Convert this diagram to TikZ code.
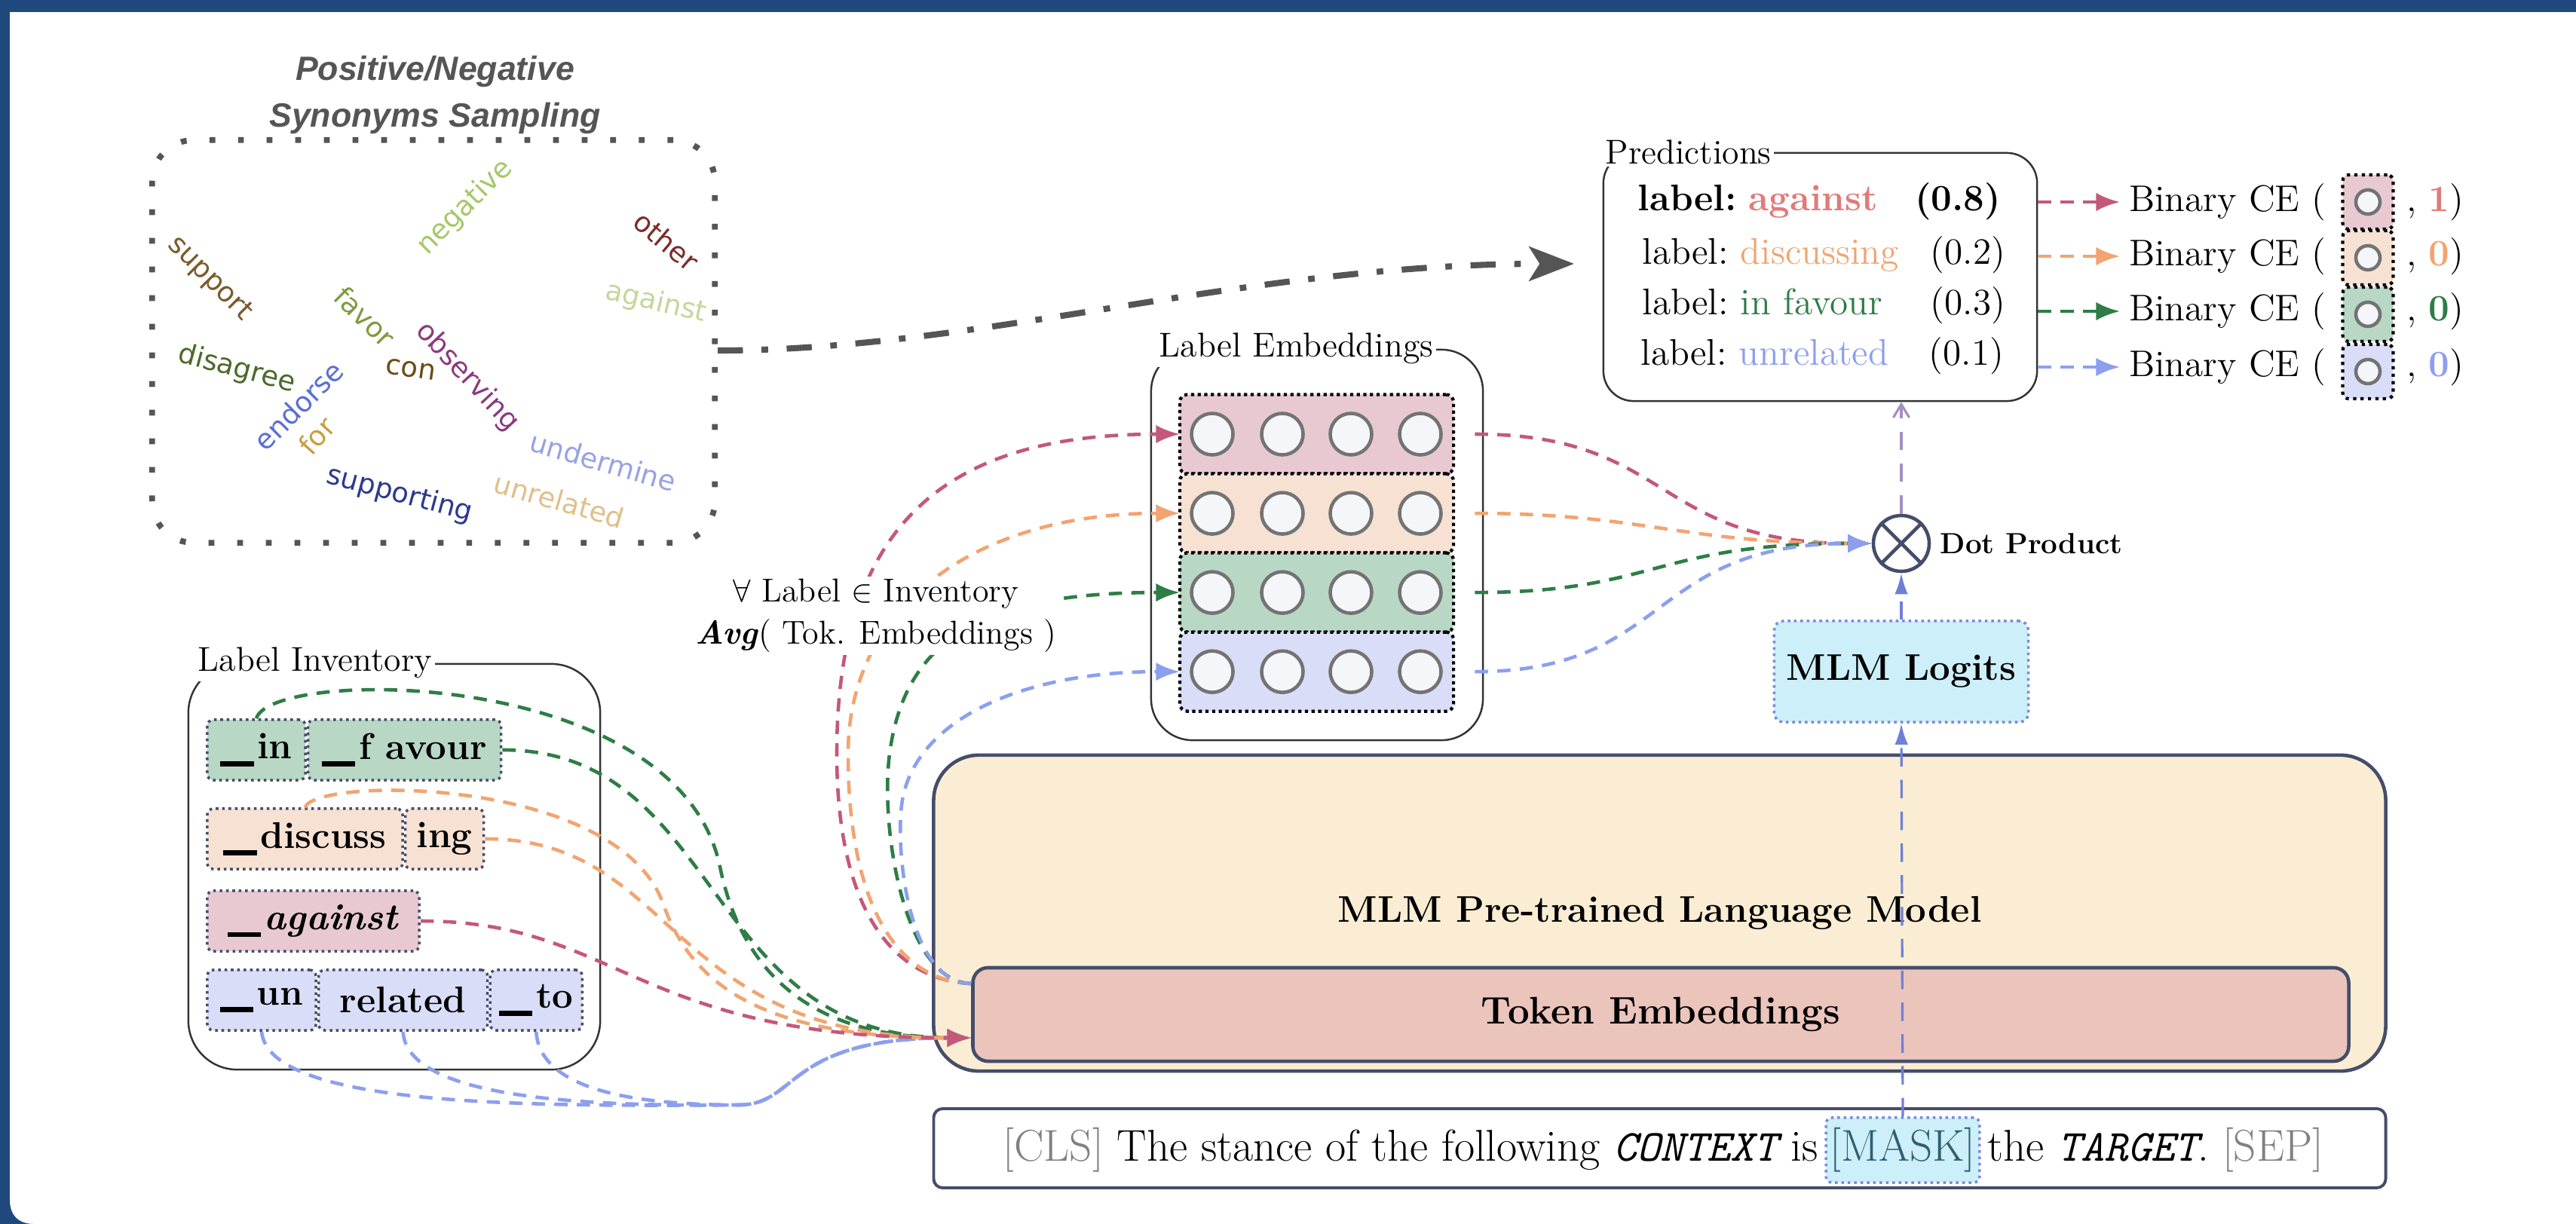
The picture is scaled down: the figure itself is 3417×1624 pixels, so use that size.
\documentclass[tikz,border=0pt]{standalone}
\usepackage{fontspec}
\usepackage{tikz}
\usetikzlibrary{positioning,calc,arrows.meta}

\newfontfamily\cloudfont{DejaVu Sans}
\newfontfamily\headfont{Liberation Sans}

\definecolor{framebl}{HTML}{1F497D}
\definecolor{cloudgray}{HTML}{555555}
\definecolor{slate}{HTML}{454D6A}
\definecolor{agfill}{HTML}{E8C9D2}
\definecolor{dsfill}{HTML}{F7E1D3}
\definecolor{fvfill}{HTML}{B9D7C5}
\definecolor{unfill}{HTML}{D9DDF7}
\definecolor{agline}{HTML}{C4587A}
\definecolor{agtext}{HTML}{E07B79}
\definecolor{dsline}{HTML}{F2A470}
\definecolor{fvline}{HTML}{2E7D46}
\definecolor{unline}{HTML}{8C9FEF}
\definecolor{mlmfill}{HTML}{FAEDD3}
\definecolor{tokfill}{HTML}{EBC4BC}
\definecolor{logitfill}{HTML}{CDEFF9}
\definecolor{logitline}{HTML}{7B8BD9}
\definecolor{maskblue}{HTML}{6F7FD8}
\definecolor{predline}{HTML}{A48FC4}
\definecolor{masktext}{HTML}{2F5F73}
\definecolor{unitfill}{HTML}{F4F6FA}
\definecolor{wsupport}{HTML}{7A5A2C}
\definecolor{wnegative}{HTML}{A6C86A}
\definecolor{wother}{HTML}{7B2C28}
\definecolor{wagainst}{HTML}{C3D79B}
\definecolor{wfavor}{HTML}{7E9B40}
\definecolor{wdisagree}{HTML}{4C6A2B}
\definecolor{wcon}{HTML}{6B4C14}
\definecolor{wobserving}{HTML}{8C3A7E}
\definecolor{wendorse}{HTML}{5A6ED6}
\definecolor{wfor}{HTML}{C99F3E}
\definecolor{wundermine}{HTML}{98A2E6}
\definecolor{wunrelated}{HTML}{E0C08A}
\definecolor{wsupporting}{HTML}{2D3990}

% word-piece marker
\newcommand{\ubar}{\rule[-0.2em]{0.9em}{0.14em}\kern0.1em}

\tikzset{
  panel/.style={draw=black!80, line width=0.7pt},
  paneltitle/.style={fill=white, anchor=west, inner sep=1pt, font=\fontsize{13}{15}\selectfont},
  embrow/.style={draw=black, line width=1.2pt, dash pattern=on 1.2pt off 1.3pt,
    rounded corners=0.1cm, minimum width=3.63cm, minimum height=1.05cm, inner sep=0pt, outer sep=0pt},
  neuron/.style={circle, draw=black!55, fill=unitfill, line width=1.3pt, minimum size=0.55cm, inner sep=0pt},
  tokbox/.style={draw=slate, line width=1pt, dash pattern=on 1pt off 1.4pt, rounded corners=0.08cm,
    minimum height=0.8cm, inner sep=0pt, font=\bfseries\fontsize{14}{16}\selectfont},
  minibox/.style={draw=black, line width=1.2pt, dash pattern=on 1.2pt off 1.6pt, rounded corners=0.08cm,
    minimum width=0.67cm, minimum height=0.72cm, inner sep=0pt},
  flow/.style={line width=1.3pt, dash pattern=on 5pt off 3.5pt, -{Latex[length=9pt,width=7pt]}},
  thinflow/.style={line width=0.9pt, dash pattern=on 7pt off 5pt},
  word/.style={font=\cloudfont\fontsize{10.5}{12}\selectfont, inner sep=0pt},
  block/.style={draw=slate, line width=1.3pt},
  predrow/.style={anchor=west, inner sep=0pt, text width=4.81cm, align=left, font=\fontsize{14}{16}\selectfont\frenchspacing},
  bcetext/.style={anchor=west, font=\fontsize{14}{16}\selectfont},
}

\begin{document}
\begin{tikzpicture}[x=0.01cm,y=-0.01cm]
% canvas and frame
\fill[white] (0,0) rectangle (3417,1624);
\useasboundingbox (0,0) rectangle (3417,1624);
\fill[framebl] (0,0) rectangle (3417,16);
\fill[framebl] (0,0) rectangle (13,1624);
\fill[framebl] (13,1592) .. controls (13,1612) and (24,1624) .. (45,1624) -- (13,1624) -- cycle;

% synonyms sampling
\node[draw=cloudgray, line width=2.2pt, dash pattern=on 2.2pt off 8.6pt, rounded corners=0.55cm,
  minimum width=7.46cm, minimum height=5.34cm] (cloud) at (575,453) {};
\node[font=\headfont\bfseries\itshape\fontsize{12.7}{17.4}\selectfont, text=cloudgray, align=center]
  (cloudtitle) at (577,126) {Positive/Negative\\Synonyms Sampling};
\foreach \w/\c/\x/\y/\r [count=\i] in {
  support/wsupport/278/370/-45, negative/wnegative/617/275/45, other/wother/884/320/-40,
  against/wagainst/870/402/-13, favor/wfavor/484/420/-45, disagree/wdisagree/314/490/-15,
  con/wcon/545/490/-8, observing/wobserving/620/500/-47, endorse/wendorse/396/538/45,
  for/wfor/420/578/48, undermine/wundermine/800/612/-16, unrelated/wunrelated/742/664/-16,
  supporting/wsupporting/530/656/-15}
  \node[word, text=\c, rotate=\r] (w\i) at (\x,\y) {\w};

% predictions
\node[panel, rounded corners=0.4cm, minimum width=5.75cm, minimum height=3.29cm] (pred) at (2414.5,367.5) {};
\node[paneltitle] (predtitle) at (pred.north west) {Predictions};
\node[predrow] (pr1) at (2172,267) {\textbf{label: \textcolor{agtext}{against}\hfill(0.8)}};
\node[predrow] (pr2) at (2178,338) {label: \textcolor{dsline}{discussing}\hfill(0.2)};
\node[predrow] (pr3) at (2178,405) {label: \textcolor{fvline}{in favour}\hfill(0.3)};
\node[predrow] (pr4) at (2176,472) {label: \textcolor{unline}{unrelated}\hfill(0.1)};

\coordinate (predin) at (2088,350);
\draw[cloudgray, line width=2.3pt, dash pattern=on 9.5pt off 7pt on 2.5pt off 7pt,
  -{Stealth[length=17pt,width=13pt,inset=4pt]}]
  ([yshift=-0.12cm]cloud.east) .. controls +(350,0) and +(-440,0) .. (predin);

% binary cross entropy per label
\node[bcetext] (bce1) at (2812,268) {Binary CE (};
\node[minibox, fill=agfill] (mb1) at (3141,268) {};
\node[neuron, minimum size=0.32cm] (mc1) at (mb1) {};
\node[bcetext] (bt1) at (3180,268) {, \textbf{\textcolor{agtext}{1}})};
\node[bcetext] (bce2) at (2812,340) {Binary CE (};
\node[minibox, fill=dsfill] (mb2) at (3141,342) {};
\node[neuron, minimum size=0.32cm] (mc2) at (mb2) {};
\node[bcetext] (bt2) at (3180,340) {, \textbf{\textcolor{dsline}{0}})};
\node[bcetext] (bce3) at (2812,413) {Binary CE (};
\node[minibox, fill=fvfill] (mb3) at (3141,417) {};
\node[neuron, minimum size=0.32cm] (mc3) at (mb3) {};
\node[bcetext] (bt3) at (3180,413) {, \textbf{\textcolor{fvline}{0}})};
\node[bcetext] (bce4) at (2812,487) {Binary CE (};
\node[minibox, fill=unfill] (mb4) at (3141,493) {};
\node[neuron, minimum size=0.32cm] (mc4) at (mb4) {};
\node[bcetext] (bt4) at (3180,487) {, \textbf{\textcolor{unline}{0}})};
\draw[flow, agline] (pred.east |- bce1.west) -- (bce1.west);
\draw[flow, dsline] (pred.east |- bce2.west) -- (bce2.west);
\draw[flow, fvline] (pred.east |- bce3.west) -- (bce3.west);
\draw[flow, unline] (pred.east |- bce4.west) -- (bce4.west);

% label embeddings
\node[panel, rounded corners=0.55cm, minimum width=4.4cm, minimum height=5.18cm] (embgrp) at (1747,723) {};
\node[paneltitle] (embtitle) at ([xshift=0.08cm]embgrp.north west) {Label Embeddings};
\node[embrow, fill=agfill] (emb1) at (1746.5,576) {};
\node[embrow, fill=dsfill, below=0pt of emb1] (emb2) {};
\node[embrow, fill=fvfill, below=0pt of emb2] (emb3) {};
\node[embrow, fill=unfill, below=0pt of emb3] (emb4) {};
\foreach \r in {1,...,4}
  \foreach \cx [count=\k] in {1608,1701,1792,1884}
    \node[neuron] (u\r\k) at (\cx,0 |- emb\r) {};

% dot product and logits
\node[circle, draw=slate, line width=1.3pt, minimum size=0.74cm, inner sep=0pt] (dot) at (2522,721) {};
\draw[slate, line width=1.3pt] (dot.north west) -- (dot.south east) (dot.north east) -- (dot.south west);
\node[anchor=west, font=\bfseries\fontsize{11}{13}\selectfont] (dotlab) at (dot.east) {Dot Product};
\node[fill=logitfill, draw=logitline, line width=1pt, dash pattern=on 1pt off 1.4pt, rounded corners=0.12cm,
  minimum width=3.37cm, minimum height=1.34cm, font=\bfseries\fontsize{14}{16}\selectfont] (logits) at (2522,891) {MLM Logits};

% language model
\node[block, fill=mlmfill, rounded corners=0.6cm, minimum width=19.25cm, minimum height=4.19cm,
  font=\bfseries\fontsize{14}{16}\selectfont] (mlm) at (2201.5,1211.5) {MLM Pre-trained Language Model};
\node[block, fill=tokfill, rounded corners=0.2cm, minimum width=18.24cm, minimum height=1.24cm,
  font=\bfseries\fontsize{14.5}{16}\selectfont] (tok) at (2203,1346) {Token Embeddings};
\coordinate (tokin) at ($(tok.west)+(0,31)$);
\coordinate (tokout) at ($(tok.west)+(0,-41)$);

% prompt
\node[block, line width=1.1pt, fill=white, rounded corners=0.12cm, minimum width=19.25cm, minimum height=1.05cm] (input) at (2201.5,1523.5) {};
\node[fill=logitfill, draw=logitline, line width=1pt, dash pattern=on 1pt off 1.4pt, rounded corners=0.08cm,
  inner sep=1.5pt, minimum height=0.86cm, text=masktext, font=\fontsize{16.8}{18}\selectfont] (mask) at (2524,1526) {[MASK]};
\node[anchor=base east, inner sep=0pt, font=\fontsize{16.8}{18}\selectfont] (ctxl) at ([xshift=-0.08cm]mask.base west)
  {\textcolor{black!50}{[CLS]} The stance of the following {\ttfamily\itshape CONTEXT} is};
\node[anchor=base west, inner sep=0pt, font=\fontsize{16.8}{18}\selectfont] (ctxr) at ([xshift=0.08cm]mask.base east)
  {the {\ttfamily\itshape TARGET}. \textcolor{black!50}{[SEP]}};

% label inventory
\node[panel, rounded corners=0.65cm, minimum width=5.46cm, minimum height=5.38cm] (inv) at (523,1150) {};
\node[paneltitle] (invtitle) at ([xshift=0.1cm]inv.north west) {Label Inventory};
\node[tokbox, fill=fvfill, minimum width=1.3cm] (tin) at (340,995) {\ubar in};
\node[tokbox, fill=fvfill, minimum width=2.56cm, right=0pt of tin] (tfavour) {\ubar f avour};
\node[tokbox, fill=dsfill, minimum width=2.59cm] (tdiscuss) at (404.5,1113) {\ubar discuss};
\node[tokbox, fill=dsfill, minimum width=1.04cm, right=0pt of tdiscuss] (ting) {ing};
\node[tokbox, fill=agfill, minimum width=2.81cm] (tagainst) at (415.5,1222) {\ubar\textit{against}};
\node[tokbox, fill=unfill, minimum width=1.44cm] (tun) at (347,1327) {\ubar un};
\node[tokbox, fill=unfill, minimum width=2.24cm, right=0pt of tun] (trelated) {related};
\node[tokbox, fill=unfill, minimum width=1.22cm, right=0pt of trelated] (tto) {\ubar to};

% tokens into the embedding layer
\draw[flow, unline] (tun.south) .. controls +(10,100) and (700,1468) .. (980,1466)
  .. controls (1060,1466) and (1040,1377) .. (tokin);
\draw[flow, unline] (trelated.south) .. controls +(5,90) and (780,1468) .. (980,1466)
  .. controls (1060,1466) and (1040,1377) .. (tokin);
\draw[flow, unline] (tto.south) .. controls +(5,80) and (850,1466) .. (980,1466)
  .. controls (1060,1466) and (1040,1377) .. (tokin);
\draw[flow, fvline] (tin.north) .. controls (360,885) and (900,885) .. (955,1150)
  .. controls (985,1295) and (1080,1377) .. (tokin);
\draw[flow, fvline] (tfavour.east) .. controls (960,995) and (930,1377) .. (tokin);
\draw[flow, dsline] (tdiscuss.north) .. controls (420,1030) and (820,1030) .. (880,1200)
  .. controls (915,1299) and (1000,1377) .. (tokin);
\draw[flow, dsline] (ting.east) .. controls (900,1113) and (880,1377) .. (tokin);
\draw[flow, agline] (tagainst.east) .. controls (820,1222) and (840,1377) .. (tokin);

% averaged token embeddings up to the label embeddings
\draw[flow, agline] (tokout) .. controls (1180,1300) and (1110,1200) .. (1110,1000)
  .. controls (1110,700) and (1250,576) .. (emb1.west);
\draw[flow, dsline] (tokout) .. controls (1190,1302) and (1125,1200) .. (1125,1000)
  .. controls (1125,800) and (1300,681) .. (emb2.west);
\draw[flow, fvline] (tokout) .. controls (1200,1303) and (1167,1100) .. (1180,1000)
  .. controls (1200,850) and (1300,786) .. (emb3.west);
\draw[flow, unline] (tokout) .. controls (1210,1304) and (1190,1150) .. (1195,1080)
  .. controls (1200,960) and (1350,891) .. (emb4.west);
\node[fill=white, inner sep=1pt, align=center, font=\fontsize{12.5}{16}\selectfont] (forall) at (1162,817)
  {$\forall$ Label $\in$ Inventory\\\textbf{\textit{Avg}}( Tok. Embeddings )};

% label embeddings against the logits
\draw[flow, agline, shorten <=8pt] (emb1.east) .. controls +(290,0) and +(-290,0) .. (dot.west);
\draw[flow, dsline, shorten <=8pt] (emb2.east) .. controls +(250,0) and +(-250,0) .. (dot.west);
\draw[flow, fvline, shorten <=8pt] (emb3.east) .. controls +(270,0) and +(-290,0) .. (dot.west);
\draw[flow, unline, shorten <=8pt] (emb4.east) .. controls +(290,0) and +(-300,0) .. (dot.west);

% vertical flow
\draw[thinflow, maskblue, -{Latex[length=8pt,width=5pt]}] (mask.north) -- (logits.south);
\draw[thinflow, maskblue, -{Latex[length=8pt,width=5pt]}] (logits.north) -- (dot.south);
\draw[thinflow, predline, -{Straight Barb[length=5pt,width=6pt]}] (dot.north) -- (dot.north |- pred.south);
\end{tikzpicture}
\end{document}
